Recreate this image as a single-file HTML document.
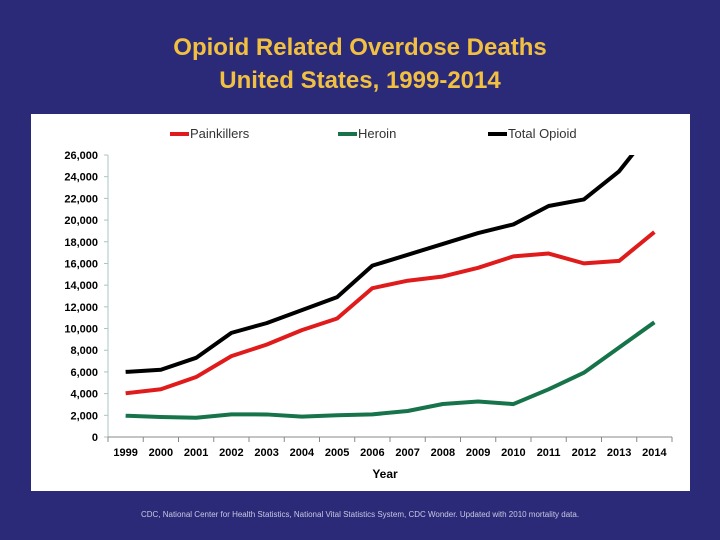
<!DOCTYPE html>
<html><head><meta charset="utf-8"><style>
body{margin:0;width:720px;height:540px;background:#2b2a79;overflow:hidden;font-family:"Liberation Sans",sans-serif}
#title{position:absolute;left:0;top:31px;width:720px;text-align:center;color:#f2c040;font-weight:bold;font-size:24px;line-height:33px}
#panel{position:absolute;left:31px;top:114px;width:659px;height:377px;background:#fff}
#foot{position:absolute;left:0;top:510px;width:720px;text-align:center;color:#c8c8e0;font-size:8px}
svg{position:absolute;left:0;top:0}
</style></head><body>
<div id="title">Opioid Related Overdose Deaths<br>United States, 1999-2014</div>
<div id="panel"></div>
<div id="foot">CDC, National Center for Health Statistics, National Vital Statistics System, CDC Wonder. Updated with 2010 mortality data.</div>
<svg id="chart" width="720" height="540"></svg>
<script>
const years=["1999","2000","2001","2002","2003","2004","2005","2006","2007","2008","2009","2010","2011","2012","2013","2014"];
const painkillers=[4030,4400,5528,7456,8517,9857,10928,13723,14408,14800,15597,16651,16917,16007,16235,18893];
const heroin=[1960,1842,1779,2089,2080,1878,2009,2088,2399,3041,3278,3036,4397,5925,8257,10574];
const total=[6000,6200,7300,9600,10500,11700,12900,15800,16800,17800,18800,19600,21300,21900,24500,28600];
const yTicks=[0,2000,4000,6000,8000,10000,12000,14000,16000,18000,20000,22000,24000,26000];
const seriesNames=["Painkillers","Heroin","Total Opioid"];
const ns="http://www.w3.org/2000/svg",svg=document.getElementById('chart');
const X0=108,X1=672,Y0=437,Y1=155,YMAX=26000;
const bw=(X1-X0)/years.length;
const x=i=>X0+bw*(i+0.5), y=v=>Y0-(v/YMAX)*(Y0-Y1);
function el(t,a,p){const e=document.createElementNS(ns,t);for(const k in a)e.setAttribute(k,a[k]);(p||svg).appendChild(e);return e;}
const defs=el('defs',{});const cp=el('clipPath',{id:'cp'},defs);el('rect',{x:X0,y:Y1,width:X1-X0,height:Y0-Y1},cp);
const ax=el('g',{});


el('line',{x1:X0,y1:Y1,x2:X0,y2:Y0,stroke:'#a8c4c4','stroke-width':1},ax);
el('line',{x1:X0,y1:Y0,x2:X1,y2:Y0,stroke:'#888','stroke-width':1},ax);
yTicks.forEach(v=>{
 el('line',{x1:X0-4,y1:y(v),x2:X0,y2:y(v),stroke:'#a8c4c4'},ax);
 const t=el('text',{x:X0-10,y:y(v)+4,'text-anchor':'end','font-size':'11','font-weight':'bold',fill:'#000'},ax);
 
 
 t.textContent=v.toLocaleString('en-US');
});
for(let i=0;i<=years.length;i++)el('line',{x1:X0+bw*i,y1:Y0,x2:X0+bw*i,y2:Y0+5,stroke:'#888'},ax);
years.forEach((yr,i)=>{
 const t=el('text',{x:x(i),y:456,'text-anchor':'middle','font-size':'11','font-weight':'bold',fill:'#000'},ax);
 
 
 t.textContent=yr;
});
const xt=el('text',{x:385,y:478,'text-anchor':'middle','font-size':'12','font-weight':'bold',fill:'#000'});


xt.textContent='Year';
const data=[painkillers,heroin,total],cols=['#e01b1b','#17744a','#000'],names=['painkillers-line','heroin-line','total-opioid-line'];
data.forEach((d,s)=>{
 const p=el('polyline',{points:d.map((v,i)=>x(i)+','+y(v)).join(' '),fill:'none',stroke:cols[s],'stroke-width':4,'stroke-linejoin':'round','clip-path':'url(#cp)'});
 
 
});
const lx=[170,338,488];
seriesNames.forEach((n,s)=>{
 const g=el('g',{});
 
 
 el('line',{x1:lx[s],y1:134,x2:lx[s]+19,y2:134,stroke:cols[s],'stroke-width':4},g);
 const t=el('text',{x:lx[s]+20,y:138,'font-size':'13',fill:'#333'},g);t.textContent=n;
});
</script>
</body></html>
